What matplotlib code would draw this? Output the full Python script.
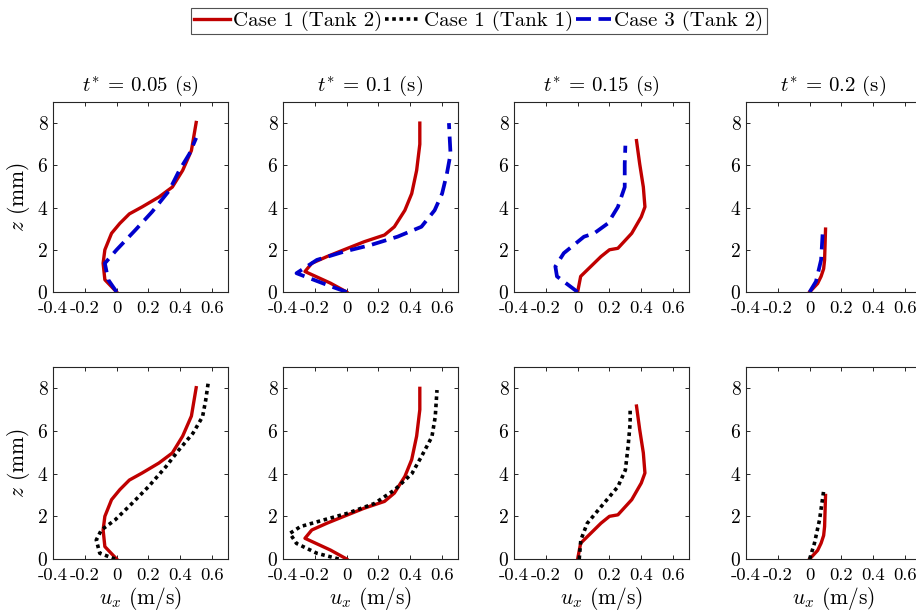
import matplotlib
matplotlib.use("Agg")
import matplotlib.pyplot as plt
from matplotlib.lines import Line2D

plt.rcParams['font.family'] = 'serif'
plt.rcParams['font.serif'] = ['cmr10']
plt.rcParams['mathtext.fontset'] = 'cm'
plt.rcParams['axes.unicode_minus'] = False

# time labels
times = ["0.05", "0.1", "0.15", "0.2"]

# Case 1 (Tank 2) - red solid, (u_x, z)
c1t2_u = [
    [0.0, -0.074, -0.085, -0.074, -0.032, 0.02, 0.08, 0.16, 0.266, 0.35, 0.415, 0.47, 0.50],
    [0.0, -0.102, -0.262, -0.219, -0.123, -0.017, 0.11, 0.238, 0.30, 0.366, 0.409, 0.44, 0.46, 0.46],
    [0.0, 0.019, 0.083, 0.147, 0.20, 0.253, 0.34, 0.40, 0.423, 0.413, 0.39, 0.37],
    [0.0, 0.05, 0.072, 0.088, 0.094, 0.10],
]
c1t2_z = [
    [0.0, 0.58, 1.36, 2.0, 2.78, 3.25, 3.7, 4.03, 4.5, 4.97, 5.76, 6.7, 8.03],
    [0.0, 0.42, 0.97, 1.36, 1.68, 2.0, 2.38, 2.7, 3.09, 3.87, 4.66, 5.76, 7.0, 8.0],
    [0.0, 0.74, 1.21, 1.68, 2.0, 2.07, 2.78, 3.56, 4.03, 4.97, 6.07, 7.17],
    [0.0, 0.4, 0.74, 1.1, 1.52, 2.98],
]

# Case 3 (Tank 2) - blue dashed
c3t2_u = [
    [0.0, -0.053, -0.074, 0.0, 0.117, 0.223, 0.33, 0.394, 0.457, 0.50],
    [0.0, -0.10, -0.315, -0.187, -0.017, 0.153, 0.32, 0.47, 0.553, 0.60, 0.63, 0.653, 0.643],
    [0.0, -0.13, -0.14, -0.087, 0.04, 0.104, 0.19, 0.253, 0.296, 0.296, 0.30],
    [0.0, 0.04, 0.072, 0.083],
]
c3t2_z = [
    [0.0, 0.58, 1.36, 2.0, 2.93, 3.8, 4.8, 5.76, 6.54, 7.3],
    [0.0, 0.27, 0.89, 1.52, 1.91, 2.23, 2.62, 3.09, 3.87, 4.66, 5.6, 6.54, 8.0],
    [0.0, 0.74, 1.21, 1.84, 2.62, 2.78, 3.25, 4.03, 4.97, 6.07, 6.93],
    [0.0, 0.5, 1.52, 2.93],
]

# Case 1 (Tank 1) - black dotted
c1t1_u = [
    [-0.01, -0.106, -0.128, -0.096, -0.01, 0.096, 0.20, 0.31, 0.39, 0.48, 0.54, 0.56, 0.575],
    [-0.05, -0.187, -0.315, -0.357, -0.29, -0.145, 0.004, 0.174, 0.30, 0.41, 0.47, 0.536, 0.557, 0.568],
    [0.01, 0.02, 0.06, 0.147, 0.253, 0.30, 0.317, 0.33, 0.33],
    [0.0, 0.03, 0.062, 0.083, 0.09],
]
c1t1_z = [
    [0.0, 0.27, 0.89, 1.36, 1.83, 2.6, 3.39, 4.33, 5.1, 5.9, 6.67, 7.45, 8.23],
    [0.0, 0.27, 0.73, 1.2, 1.52, 1.83, 2.14, 2.6, 3.23, 4.0, 4.8, 5.73, 6.67, 7.92],
    [0.0, 0.89, 1.67, 2.45, 3.39, 4.17, 5.27, 6.36, 7.06],
    [0.0, 0.73, 1.83, 2.92, 3.3],
]

xticks = [-0.4, -0.2, 0, 0.2, 0.4, 0.6]
xticklabels = ["-0.4", "-0.2", "0", "0.2", "0.4", "0.6"]
yticks = [0, 2, 4, 6, 8]

red = "#C00000"
blue = "#0000CC"
lw = 2.4

fig = plt.figure(figsize=(9.16, 6.16), dpi=100)

lefts = [53, 283, 514, 746]
W, H = 916.0, 616.0
rows = [(102, 292), (367, 559)]

for r, (top, bot) in enumerate(rows):
    for c in range(4):
        ax = fig.add_axes([lefts[c] / W, 1 - bot / H, 175 / W, (bot - top) / H])
        ax.plot(c1t2_u[c], c1t2_z[c], color=red, lw=lw, solid_joinstyle='round')
        if r == 0:
            ax.plot(c3t2_u[c], c3t2_z[c], color=blue, lw=lw + 0.3, dashes=(4.0, 2.0))
            ax.set_title(r"$t^{*}$ = %s (s)" % times[c], fontsize=15, pad=8)
        else:
            ax.plot(c1t1_u[c], c1t1_z[c], color="black", lw=lw + 0.2, dashes=(1.0, 1.0))
            ax.set_xlabel(r"$u_x$ (m/s)", fontsize=15.5, labelpad=1)
        if c == 0:
            ax.set_ylabel(r"$z$ (mm)", fontsize=15.5, labelpad=4)
        ax.set_xlim(-0.4, 0.7)
        ax.set_ylim(0, 9)
        ax.set_xticks(xticks)
        ax.set_xticklabels(xticklabels)
        ax.set_yticks(yticks)
        ax.tick_params(direction='in', top=True, right=True, length=3, width=0.7,
                       colors='#262626', labelcolor='black')
        ax.tick_params(axis='x', pad=6.5, labelsize=13.4)
        ax.tick_params(axis='y', pad=4, labelsize=14)
        for s in ax.spines.values():
            s.set_linewidth(0.8)
            s.set_color('#262626')

handles = [
    Line2D([], [], color=red, lw=lw),
    Line2D([], [], color="black", lw=lw + 0.2, dashes=(1.0, 1.0)),
    Line2D([], [], color=blue, lw=lw + 0.3, dashes=(4.0, 2.0)),
]
labels = ["Case 1 (Tank 2)", "Case 1 (Tank 1)", "Case 3 (Tank 2)"]
leg = fig.legend(handles, labels, loc='center', bbox_to_anchor=(479 / W, 1 - 21 / H),
                 ncol=3, fontsize=15, frameon=True, fancybox=False, edgecolor='#262626',
                 handlelength=1.7, handletextpad=0.15, columnspacing=0.15,
                 borderpad=0.15, borderaxespad=0.0)
leg.get_frame().set_linewidth(0.8)

fig.savefig("out.png", dpi=100)
